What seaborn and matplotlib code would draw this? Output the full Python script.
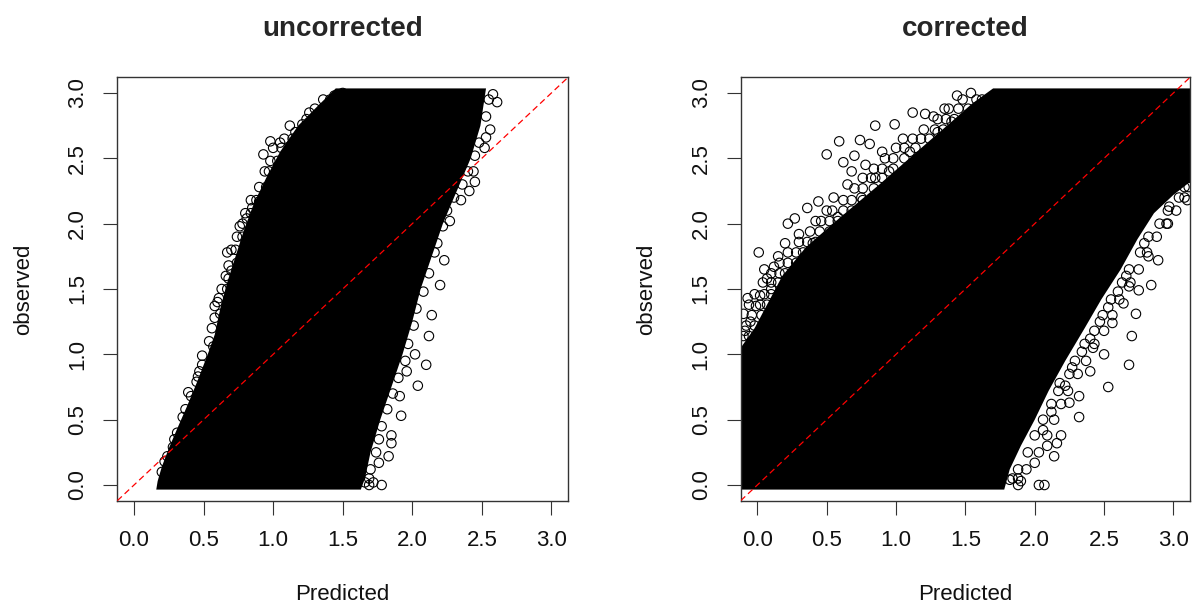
# observed vs predicted, before and after correction (R base-graphics look)

import matplotlib
matplotlib.use("Agg")
import matplotlib.pyplot as plt
import pandas as pd
import seaborn as sns

# outline of the solid black cloud (points overlap completely inside it)
unc_edge_x = [0.16, 1.63, 1.66, 1.70, 1.77, 1.85, 1.93, 2.00, 2.06, 2.14, 2.22, 2.32, 2.42, 2.49, 2.53,
              1.45, 1.32, 1.18, 1.05, 0.95, 0.86, 0.79, 0.73, 0.67, 0.62, 0.58, 0.53, 0.45, 0.38, 0.31,
              0.25, 0.20, 0.17]
unc_edge_y = [-0.035, -0.035, 0.05, 0.25, 0.50, 0.75, 1.00, 1.25, 1.50, 1.75, 2.00, 2.25, 2.50, 2.75, 3.035,
              3.035, 2.90, 2.75, 2.55, 2.35, 2.15, 1.95, 1.75, 1.55, 1.35, 1.15, 1.00, 0.78, 0.60, 0.43,
              0.28, 0.14, 0.03]

cor_edge_x = [-0.12, 1.78, 1.82, 1.90, 2.00, 2.10, 2.22, 2.36, 2.48, 2.62, 2.74, 2.86, 3.00, 3.12,
              3.12, 1.70, 1.55, 1.40, 1.15, 0.88, 0.60, 0.35, 0.18, 0.08, -0.02, -0.12]
cor_edge_y = [-0.035, -0.035, 0.12, 0.30, 0.50, 0.72, 0.95, 1.20, 1.42, 1.65, 1.88, 2.08, 2.22, 2.32,
              3.035, 3.035, 2.92, 2.78, 2.55, 2.30, 2.05, 1.82, 1.60, 1.40, 1.20, 1.05]

# outlying points read individually
unc_pts_x = [0.67, 0.93, 0.98, 1.05, 1.12, 1.21, 1.26, 1.28, 1.33, 1.40, 1.44, 1.50, 1.14, 0.78, 0.81, 0.85,
             0.90, 0.93, 1.01, 0.68, 0.70, 0.74, 0.61, 0.58, 0.62, 0.57, 0.49, 0.47, 0.45, 0.39, 0.37, 0.31,
             0.28, 0.24, 0.20,
             2.58, 2.61, 2.56, 2.53, 2.52, 2.45, 2.41, 2.35, 2.27, 2.23, 2.20, 2.14, 2.12, 2.10, 2.04, 2.02,
             1.96, 1.91, 1.92, 1.85, 1.85, 1.83, 1.78, 1.69, 1.69, 1.76]
unc_pts_y = [1.78, 2.53, 2.63, 2.62, 2.75, 2.76, 2.85, 2.74, 2.82, 2.85, 2.98, 3.00, 2.53, 2.00, 2.04, 2.12,
             2.17, 2.21, 2.35, 1.58, 1.64, 1.70, 1.43, 1.37, 1.31, 1.06, 0.99, 0.87, 0.79, 0.71, 0.58, 0.40,
             0.29, 0.22, 0.10,
             2.99, 2.93, 2.72, 2.66, 2.58, 2.32, 2.25, 2.18, 2.02, 1.72, 1.53, 1.30, 1.14, 0.92, 0.76, 1.00,
             0.87, 0.68, 0.53, 0.38, 0.32, 0.22, 0.00, 0.00, 0.05, 0.17]

# points in the crowded fringe between the outliers and the solid cloud
unc_band_x = [1.36, 1.41, 1.30, 1.36, 1.24, 1.29, 1.16, 1.20, 1.08, 1.14, 1.00, 1.06, 0.98, 1.03, 0.94, 0.97,
              0.90, 0.95, 0.84, 0.88, 0.80, 0.84, 0.76, 0.74, 0.78, 0.70, 0.73, 0.68, 0.66, 0.63, 0.67, 0.60,
              0.58, 0.56, 0.54, 0.49, 0.46, 0.41, 0.35, 0.29, 0.22,
              2.55, 2.53, 2.48, 2.45, 2.40, 2.44, 2.36, 2.30, 2.25, 2.22, 2.18, 2.16, 2.12, 2.08, 2.03, 2.01,
              1.97, 1.95, 1.90, 1.86, 1.82, 1.78, 1.76, 1.74, 1.70, 1.66, 1.72]
unc_band_y = [2.95, 2.95, 2.88, 2.88, 2.80, 2.80, 2.70, 2.70, 2.65, 2.65, 2.58, 2.58, 2.48, 2.48, 2.40, 2.40,
              2.28, 2.28, 2.18, 2.18, 2.08, 2.08, 1.98, 1.90, 1.90, 1.80, 1.80, 1.68, 1.60, 1.50, 1.50, 1.40,
              1.28, 1.20, 1.10, 0.92, 0.83, 0.68, 0.52, 0.35, 0.18,
              2.95, 2.82, 2.62, 2.52, 2.40, 2.40, 2.30, 2.20, 2.10, 1.98, 1.85, 1.78, 1.62, 1.48, 1.35, 1.22,
              1.08, 0.95, 0.82, 0.70, 0.58, 0.45, 0.35, 0.25, 0.12, 0.02, 0.02]

cor_pts_x = [0.01, 0.50, 0.59, 0.74, 0.81, 0.85, 0.99, 1.12, 1.21, 1.27, 1.44, 1.54, 0.36, 0.44, 0.22, 0.27,
             0.12, 0.07, -0.01, -0.07, -0.10, 0.62, 0.68, 0.70, 0.78, 0.90, 0.95, 1.05, 1.10, 1.30, 1.35,
             1.40, 0.55, 0.50, 0.42, 0.30, 0.20, 0.15, 0.05, 0.10, 0.02, -0.05, -0.09, 0.65, 0.75,
             0.85, 0.58, 0.40,
             2.68, 2.53, 2.70, 2.73, 2.64, 2.56, 2.50, 2.40, 2.32, 2.32, 2.25, 2.19, 2.14, 2.16, 2.09, 2.03,
             2.07, 1.88, 1.90, 2.00, 1.82, 2.22, 2.42, 2.89, 2.84, 2.96, 2.97, 3.10, 2.79, 2.82, 2.75, 2.68]
cor_pts_y = [1.78, 2.53, 2.63, 2.64, 2.61, 2.75, 2.76, 2.85, 2.84, 2.82, 2.98, 3.00, 2.12, 2.17, 2.00, 2.04,
             1.67, 1.58, 1.37, 1.43, 1.31, 2.47, 2.40, 2.52, 2.45, 2.55, 2.40, 2.65, 2.55, 2.70, 2.88,
             2.78, 2.20, 2.10, 2.02, 1.92, 1.85, 1.75, 1.65, 1.50, 1.45, 1.25, 1.18, 2.30, 2.20,
             2.35, 2.05, 1.85,
             0.92, 0.75, 1.14, 1.31, 1.39, 1.24, 1.00, 0.87, 0.68, 0.52, 0.63, 0.38, 0.22, 0.32, 0.30, 0.00,
             0.00, 0.00, 0.03, 0.17, 0.04, 0.76, 1.05, 1.72, 1.53, 2.00, 2.13, 2.18, 1.85, 1.75, 1.49, 1.52]

cor_band_x = [1.48, 1.58, 1.62, 1.38, 1.45, 1.52, 1.30, 1.36, 1.42, 1.20, 1.28, 1.34, 1.12, 1.18, 1.24,
              1.00, 1.06, 1.14, 0.92, 0.98, 1.06, 0.84, 0.90, 0.98, 0.76, 0.82, 0.90, 0.70, 0.76, 0.84,
              0.62, 0.68, 0.76, 0.54, 0.62, 0.68, 0.46, 0.52, 0.58, 0.38, 0.45, 0.52, 0.30, 0.36, 0.42,
              0.22, 0.28, 0.33, 0.16, 0.22, 0.28, 0.10, 0.16, 0.20, 0.04, 0.10, 0.15, -0.02, 0.05, 0.10,
              -0.06, 0.02, 0.07, -0.04, 0.03, -0.08, -0.02, -0.10, -0.06,
              1.84, 1.88, 1.88, 1.94, 1.95, 2.03, 2.00, 2.09, 2.06, 2.14, 2.12, 2.19, 2.17, 2.24, 2.25, 2.31,
              2.29, 2.37, 2.36, 2.43, 2.43, 2.50, 2.49, 2.56, 2.55, 2.61, 2.63, 2.69, 2.68, 2.75, 2.76, 2.81,
              2.82, 2.88, 2.90, 2.95, 2.96, 3.02, 3.04, 3.08, 3.08, 3.11,
              2.06, 2.12, 2.18, 2.27, 2.34, 2.40, 2.47, 2.53, 2.60, 2.66]
cor_band_y = [2.95, 2.95, 2.95, 2.88, 2.88, 2.88, 2.80, 2.80, 2.80, 2.72, 2.72, 2.72, 2.65, 2.65, 2.65,
              2.58, 2.58, 2.58, 2.50, 2.50, 2.50, 2.42, 2.42, 2.42, 2.35, 2.35, 2.35, 2.27, 2.27, 2.27,
              2.18, 2.18, 2.18, 2.10, 2.10, 2.10, 2.02, 2.02, 2.02, 1.94, 1.94, 1.94, 1.86, 1.86, 1.86,
              1.78, 1.78, 1.78, 1.70, 1.70, 1.70, 1.62, 1.62, 1.62, 1.55, 1.55, 1.55, 1.46, 1.46, 1.46,
              1.38, 1.38, 1.38, 1.30, 1.30, 1.22, 1.22, 1.14, 1.14,
              0.05, 0.05, 0.12, 0.12, 0.25, 0.25, 0.38, 0.38, 0.50, 0.50, 0.62, 0.62, 0.72, 0.72, 0.85, 0.85,
              0.95, 0.95, 1.08, 1.08, 1.18, 1.18, 1.30, 1.30, 1.42, 1.42, 1.55, 1.55, 1.65, 1.65, 1.78, 1.78,
              1.90, 1.90, 2.00, 2.00, 2.10, 2.10, 2.20, 2.20, 2.28, 2.28,
              0.42, 0.56, 0.78, 0.90, 1.02, 1.12, 1.25, 1.36, 1.48, 1.60]

ticks = [0.0, 0.5, 1.0, 1.5, 2.0, 2.5, 3.0]
tick_labels = ["0.0", "0.5", "1.0", "1.5", "2.0", "2.5", "3.0"]
lims = (-0.12, 3.12)

sns.set_style("white")
plt.rcParams["font.family"] = ["Liberation Sans", "DejaVu Sans"]

fig = plt.figure(figsize=(11.97, 6.13), dpi=100)
ax1 = fig.add_axes([0.098, 0.1832, 0.3766, 0.6907])
ax2 = fig.add_axes([0.6188, 0.1832, 0.3754, 0.6907])

panels = [
    (ax1, "uncorrected", unc_edge_x, unc_edge_y, unc_pts_x + unc_band_x, unc_pts_y + unc_band_y),
    (ax2, "corrected", cor_edge_x, cor_edge_y, cor_pts_x + cor_band_x, cor_pts_y + cor_band_y),
]

for ax, title, ex, ey, px, py in panels:
    ax.fill(ex, ey, color="black", lw=0, zorder=1)
    pts = pd.DataFrame({"Predicted": px, "observed": py})
    sns.scatterplot(data=pts, x="Predicted", y="observed", ax=ax, marker="o",
                    s=46, facecolor="none", edgecolor="black", linewidth=0.8, zorder=2)
    ax.axline((0, 0), slope=1, color="red", lw=0.9, ls=(0, (5, 3)), zorder=3)

    ax.set_xlim(lims)
    ax.set_ylim(lims)
    ax.set_xticks(ticks)
    ax.set_yticks(ticks)
    ax.set_xticklabels(tick_labels)
    ax.set_yticklabels(tick_labels, rotation=90, va="center")
    ax.tick_params(direction="out", length=9.9, width=0.8, labelsize=16, pad=11,
                   color="#333333", labelcolor="#111111", bottom=True, left=True)
    for sp in ax.spines.values():
        sp.set_visible(True)
        sp.set_color("#333333")
        sp.set_linewidth(1.0)

    ax.set_xlabel("Predicted", fontsize=16, labelpad=24, color="#111111")
    ax.set_ylabel("observed", fontsize=16, labelpad=24, color="#111111")
    ax.set_title(title, fontsize=20, fontweight="bold", pad=30)

fig.savefig("out.png", dpi=100)
